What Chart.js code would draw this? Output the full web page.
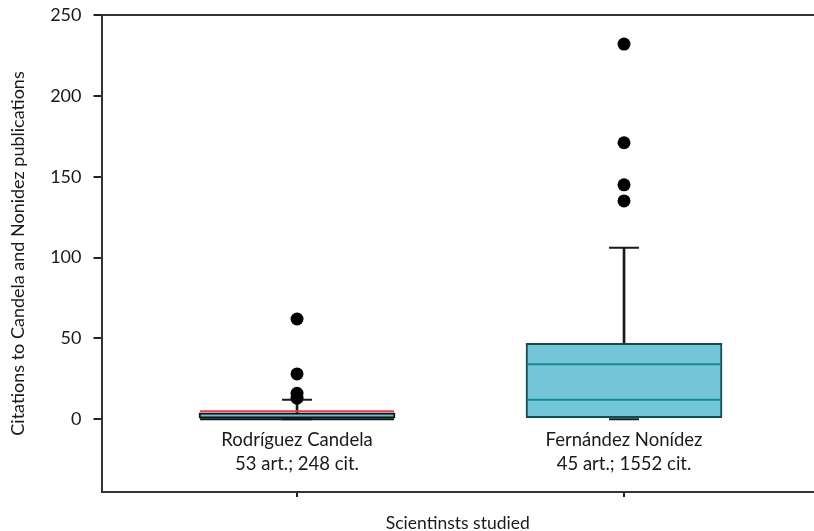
<!DOCTYPE html>
<html>
<head>
<meta charset="utf-8">
<script src="https://cdn.jsdelivr.net/npm/chart.js@4.4.1/dist/chart.umd.min.js"></script>
<style>
  html, body { margin: 0; padding: 0; background: #fff; }
  #wrap { width: 814px; height: 531px; position: relative; }
</style>
</head>
<body>
<div id="wrap"><canvas id="myChart"></canvas></div>
<script>
// values
const scientists = [
  ['Rodríguez Candela', '53 art.; 248 cit.'],
  ['Fernández Nonídez', '45 art.; 1552 cit.'],
];
const q1 = [0, 1];
const q3 = [4, 47];
const medians = [0, 12];
const means = [5, 34];
const whiskerLow = [0, 0];
const whiskerHigh = [12, 106];
const outliers = [
  [62, 28, 16, 13],
  [232, 171, 145, 135],
];
const yTicks = [0, 50, 100, 150, 200, 250];

const FONT = 'Lato';
const TEXT = '#1a1a1a';
const boxFill = ['#5cc4d3', '#74c6d7'];
const boxBorder = ['#111111', '#0f4d56'];
const medianColor = ['#111111', '#138a92'];
const meanColor = ['#e0404a', '#138a92'];

const xs = [0, 1];
const boxData = xs.map(function (x) { return { x: x, y: [q1[x], q3[x]] }; });
const whiskerData = xs.map(function (x) { return { x: x, y: [q3[x], whiskerHigh[x]] }; });
const capData = [];
xs.forEach(function (x) {
  capData.push({ x: x, y: whiskerHigh[x] });
  capData.push({ x: x, y: whiskerLow[x] });
});
const medianData = xs.map(function (x) { return { x: x, y: medians[x] }; });
const meanData = xs.map(function (x) { return { x: x, y: means[x] }; });
const outlierData = [];
xs.forEach(function (x) {
  outliers[x].forEach(function (v) { outlierData.push({ x: x, y: v }); });
});

const ctx = document.getElementById('myChart').getContext('2d');
const myChart = new Chart(ctx, {
  data: {
    datasets: [
      {
        type: 'bar',
        data: whiskerData,
        backgroundColor: '#1a1a1a',
        barThickness: 2,
        grouped: false,
        order: 6,
      },
      {
        type: 'bar',
        data: boxData,
        backgroundColor: boxFill,
        borderColor: boxBorder,
        borderWidth: 2,
        borderSkipped: false,
        barThickness: 196,
        grouped: false,
        order: 5,
      },
      {
        type: 'line',
        data: capData,
        showLine: false,
        pointStyle: 'line',
        pointRadius: 15,
        pointBorderWidth: 2,
        pointBorderColor: '#1a1a1a',
        order: 4,
      },
      {
        type: 'line',
        data: medianData,
        showLine: false,
        pointStyle: 'line',
        pointRadius: 97,
        pointBorderWidth: 2,
        pointBorderColor: medianColor,
        order: 3,
      },
      {
        type: 'line',
        data: meanData,
        showLine: false,
        pointStyle: 'line',
        pointRadius: 97,
        pointBorderWidth: 2,
        pointBorderColor: meanColor,
        order: 2,
      },
      {
        type: 'scatter',
        data: outlierData,
        pointRadius: 6.5,
        pointBackgroundColor: '#000',
        pointBorderWidth: 0,
        order: 1,
      },
    ],
  },
  options: {
    responsive: true,
    maintainAspectRatio: false,
    animation: false,
    layout: { padding: 0, autoPadding: false },
    plugins: {
      legend: { display: false },
      tooltip: { enabled: false },
    },
    scales: {
      x: {
        type: 'linear',
        position: 'bottom',
        offset: false,
        bounds: 'data',
        min: -0.598,
        max: 1.581,
        afterBuildTicks: function (scale) {
          scale.ticks = xs.map(function (v) { return { value: v }; });
        },
        afterFit: function (scale) {
          scale.height = 39;
          scale.paddingLeft = 0;
          scale.paddingRight = 0;
        },
        grid: { offset: false, drawOnChartArea: false, drawTicks: true, tickLength: 5, color: '#222', lineWidth: 2 },
        border: { color: '#333', width: 2 },
        ticks: {
          autoSkip: false,
          maxRotation: 0,
          mirror: true,
          padding: 40,
          color: TEXT,
          font: { family: FONT, size: 18.5, lineHeight: 1.3 },
          callback: function (v) { return scientists[v] || ''; },
        },
        title: {
          display: true,
          text: 'Scientinsts studied',
          color: TEXT,
          font: { family: FONT, size: 17.5 },
          padding: { top: 0, bottom: -3 },
        },
      },
      x2: {
        type: 'linear',
        position: 'top',
        min: 0,
        max: 1,
        afterFit: function (scale) { scale.height = 15; },
        grid: { display: false },
        ticks: { display: false },
        border: { color: '#333', width: 2 },
      },
      y: {
        type: 'linear',
        min: -45,
        max: 250,
        afterBuildTicks: function (scale) {
          scale.ticks = yTicks.map(function (v) { return { value: v }; });
        },
        afterFit: function (scale) {
          scale.width = 101.5;
          scale.paddingTop = 0;
          scale.paddingBottom = 0;
        },
        grid: { drawOnChartArea: false, drawTicks: true, tickLength: 8, color: '#222', lineWidth: 2 },
        border: { color: '#333', width: 2 },
        ticks: {
          padding: 12,
          color: TEXT,
          font: { family: FONT, size: 18 },
        },
        title: {
          display: true,
          text: 'Citations to Candela and Nonidez publications',
          color: TEXT,
          font: { family: FONT, size: 18 },
          padding: { top: 7, bottom: 0 },
        },
      },
    },
  },
});
</script>
</body>
</html>
